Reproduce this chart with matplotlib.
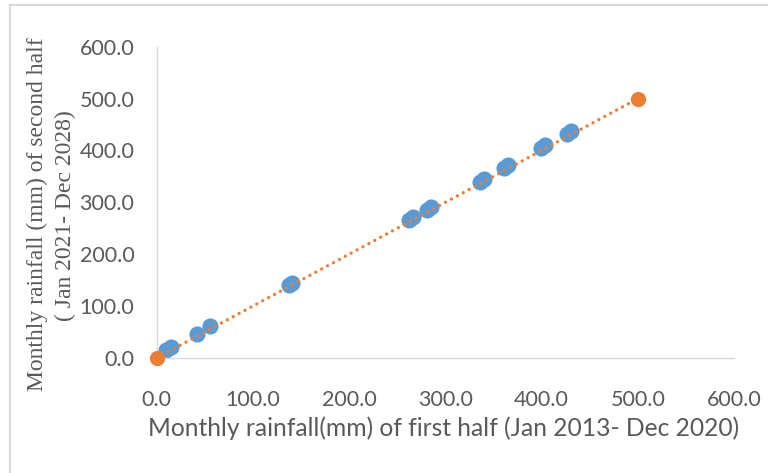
import matplotlib
matplotlib.use('Agg')
import matplotlib.pyplot as plt
from matplotlib.lines import Line2D

# 관측값 (first half vs second half)
first_half = [10, 15, 42, 56, 138, 141, 262, 266, 281.5, 285.5, 336, 340,
              361.5, 365.5, 399.5, 403.5, 426.5, 430.5]
second_half = [15, 21, 46, 61, 141, 144, 266, 272, 285, 291, 340, 346,
               365.5, 371.5, 404, 410, 431, 437]
# 기준선 (1:1)
ref_x = [0, 500]
ref_y = [0, 500]

ticks = [0, 100, 200, 300, 400, 500, 600]
tick_labels = ['%.1f' % t for t in ticks]

gray = '#595959'
sans = 'Lato'
serif = 'Liberation Serif'

fig = plt.figure(figsize=(7.68, 4.73), dpi=100)
ax = fig.add_axes([0.2038, 0.2431, 0.752, 0.6581])

ax.scatter(first_half, second_half, s=135, color='#5B9BD5', zorder=2, linewidths=0)
ax.plot(ref_x, ref_y, color='#ED7D31', lw=2.4, linestyle=(0, (0.01, 2.0)),
        dash_capstyle='round', zorder=3)
ax.scatter(ref_x, ref_y, s=120, color='#ED7D31', zorder=4, linewidths=0, clip_on=False)

ax.set_xlim(0, 600)
ax.set_ylim(0, 600)
ax.set_xticks(ticks)
ax.set_xticklabels(tick_labels)
ax.set_yticks(ticks)
ax.set_yticklabels(tick_labels)
ax.tick_params(length=0, labelsize=15.5, labelcolor=gray)
ax.tick_params(axis='y', pad=16)
ax.tick_params(axis='x', pad=23)
for lab in ax.get_xticklabels() + ax.get_yticklabels():
    lab.set_family(sans)

for s in ['top', 'right']:
    ax.spines[s].set_visible(False)
for s in ['left', 'bottom']:
    ax.spines[s].set_color('#D9D9D9')
    ax.spines[s].set_linewidth(1.0)

fig.text(444 / 768, 1 - 428 / 473, 'Monthly rainfall(mm) of first half (Jan 2013- Dec 2020)',
         ha='center', va='center', fontsize=17.7, color=gray, family=sans)
fig.text(37 / 768, 1 - 214 / 473, 'Monthly rainfall (mm) of second half',
         ha='center', va='center', rotation=90, fontsize=17, color=gray, family=serif)
fig.text(65 / 768, 1 - 216 / 473, '( Jan 2021- Dec 2028)',
         ha='center', va='center', rotation=90, fontsize=17, color=gray, family=serif)

# 바깥 테두리
fig.add_artist(Line2D([10 / 768, 1.0], [1 - 5 / 473, 1 - 5 / 473], color='#D9D9D9', lw=1.5))
fig.add_artist(Line2D([10 / 768, 10 / 768], [0.0, 1 - 5 / 473], color='#D9D9D9', lw=1.5))

fig.savefig('out.png', dpi=100)
